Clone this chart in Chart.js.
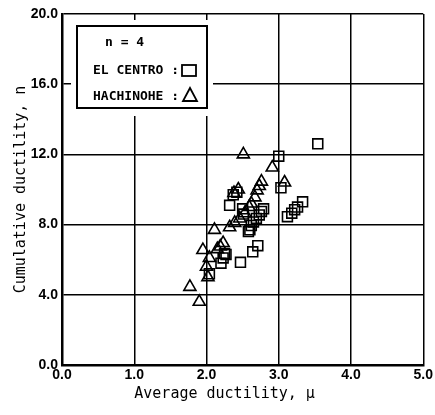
<!DOCTYPE html>
<html>
<head>
<meta charset="utf-8">
<script src="https://cdn.jsdelivr.net/npm/chart.js@4/dist/chart.umd.min.js"></script>
<style>
  html, body { margin: 0; padding: 0; background: #fff; }
  #wrap { width: 435px; height: 415px; }
</style>
</head>
<body>
<div id="wrap"><canvas id="chart" width="435" height="415"></canvas></div>
<script>
// axis ticks
const xTicks = ["0.0", "1.0", "2.0", "3.0", "4.0", "5.0"];
const yTicks = ["0.0", "4.0", "8.0", "12.0", "16.0", "20.0"];

// El Centro (squares): average ductility / cumulative ductility
const elCentroX = [3.54, 3.00, 3.03, 3.33, 3.26, 3.22, 3.18, 3.12, 2.37, 2.42, 2.32, 2.50, 2.51,
  2.79, 2.76, 2.73, 2.69, 2.65, 2.62, 2.60, 2.58, 2.71, 2.64, 2.47, 2.25, 2.27, 2.23, 2.20, 2.04];
const elCentroY = [12.6, 11.9, 10.1, 9.3, 9.0, 8.85, 8.65, 8.45, 9.7, 9.85, 9.1, 8.9, 8.6,
  8.9, 8.75, 8.55, 8.35, 8.15, 7.95, 7.7, 7.6, 6.8, 6.45, 5.85, 6.35, 6.3, 6.1, 5.8, 5.2];

// Hachinohe (triangles)
const hachinoheX = [2.51, 2.91, 3.08, 2.76, 2.73, 2.70, 2.67, 2.62, 2.59, 2.53, 2.46, 2.39, 2.32, 2.11,
  2.44, 2.38, 2.23, 2.19, 2.15, 1.95, 2.04, 2.00, 2.02, 1.77, 1.90];
const hachinoheY = [12.0, 11.25, 10.4, 10.45, 10.2, 9.95, 9.55, 9.2, 9.0, 8.65, 8.35, 8.1, 7.85, 7.7,
  10.0, 9.8, 6.95, 6.75, 6.6, 6.55, 6.1, 5.6, 5.0, 4.45, 3.6];

const legendLines = ["n = 4", "EL CENTRO :", "HACHINOHE :"];

function toPoints(xs, ys) {
  return xs.map((x, i) => ({ x: x, y: ys[i] }));
}

const monoFont = "'DejaVu Sans Mono', 'Liberation Mono', monospace";
const tickFont = "'Liberation Sans Narrow', 'Liberation Sans', sans-serif";

// legend box drawn over the grid, top-left of the plot
const legendBox = {
  id: "legendBox",
  afterDatasetsDraw(chart) {
    const ctx = chart.ctx;
    const x0 = 77, y0 = 26, w = 130, h = 82;
    ctx.save();
    ctx.fillStyle = "#fff";
    ctx.fillRect(x0 - 6, y0 - 6, w + 12, h + 14);
    ctx.strokeStyle = "#000";
    ctx.lineWidth = 2;
    ctx.strokeRect(x0, y0, w, h);
    ctx.fillStyle = "#000";
    ctx.font = "bold 13px " + monoFont;
    ctx.textBaseline = "middle";
    ctx.fillText(legendLines[0], 105, 43);
    ctx.fillText(legendLines[1], 93, 71);
    ctx.fillText(legendLines[2], 93, 97);
    // symbols
    ctx.lineWidth = 1.8;
    ctx.strokeRect(182, 65, 14, 11);
    ctx.beginPath();
    ctx.moveTo(190, 88);
    ctx.lineTo(197, 101);
    ctx.lineTo(183, 101);
    ctx.closePath();
    ctx.stroke();
    ctx.restore();
  }
};

const ctx = document.getElementById("chart").getContext("2d");
new Chart(ctx, {
  type: "scatter",
  data: {
    datasets: [{
      label: "EL CENTRO",
      data: toPoints(elCentroX, elCentroY),
      pointStyle: "rect",
      pointRadius: 7,
      borderColor: "#000",
      backgroundColor: "rgba(0,0,0,0)",
      borderWidth: 1.6
    }, {
      label: "HACHINOHE",
      data: toPoints(hachinoheX, hachinoheY),
      pointStyle: "triangle",
      pointRadius: 7,
      borderColor: "#000",
      backgroundColor: "rgba(0,0,0,0)",
      borderWidth: 1.6
    }]
  },
  options: {
    responsive: false,
    animation: false,
    layout: { padding: { top: 14, right: 11, left: 0, bottom: 0 } },
    plugins: {
      legend: { display: false },
      tooltip: { enabled: false }
    },
    scales: {
      x: {
        type: "linear",
        min: 0,
        max: 5,
        afterFit: s => { s.height = 50; },
        afterBuildTicks: s => { s.ticks = xTicks.map(v => ({ value: parseFloat(v) })); },
        ticks: {
          color: "#000",
          padding: 2,
          maxRotation: 0,
          font: { family: tickFont, size: 14, weight: "bold" },
          callback: (v, i) => xTicks[i]
        },
        grid: { color: "#000", lineWidth: 1.5, drawTicks: false },
        border: { color: "#000", width: 2.5 },
        title: {
          display: true,
          // trailing spaces nudge the centred title left, as in the original
          text: "Average ductility, μ    ",
          color: "#000",
          font: { family: monoFont, size: 15 },
          padding: { top: 0, bottom: 12 }
        }
      },
      y: {
        type: "linear",
        min: 0,
        max: 20,
        afterFit: s => { s.width = 62; },
        afterBuildTicks: s => { s.ticks = yTicks.map(v => ({ value: parseFloat(v) })); },
        ticks: {
          color: "#000",
          padding: 4,
          font: { family: tickFont, size: 14, weight: "bold" },
          callback: (v, i) => yTicks[i]
        },
        grid: { color: "#000", lineWidth: 1.5, drawTicks: false },
        border: { color: "#000", width: 2.5 },
        title: {
          display: true,
          text: "Cumulative ductility, n",
          color: "#000",
          font: { family: monoFont, size: 15 },
          padding: { top: 12, bottom: 0 }
        }
      }
    }
  },
  plugins: [legendBox]
});
</script>
</body>
</html>
